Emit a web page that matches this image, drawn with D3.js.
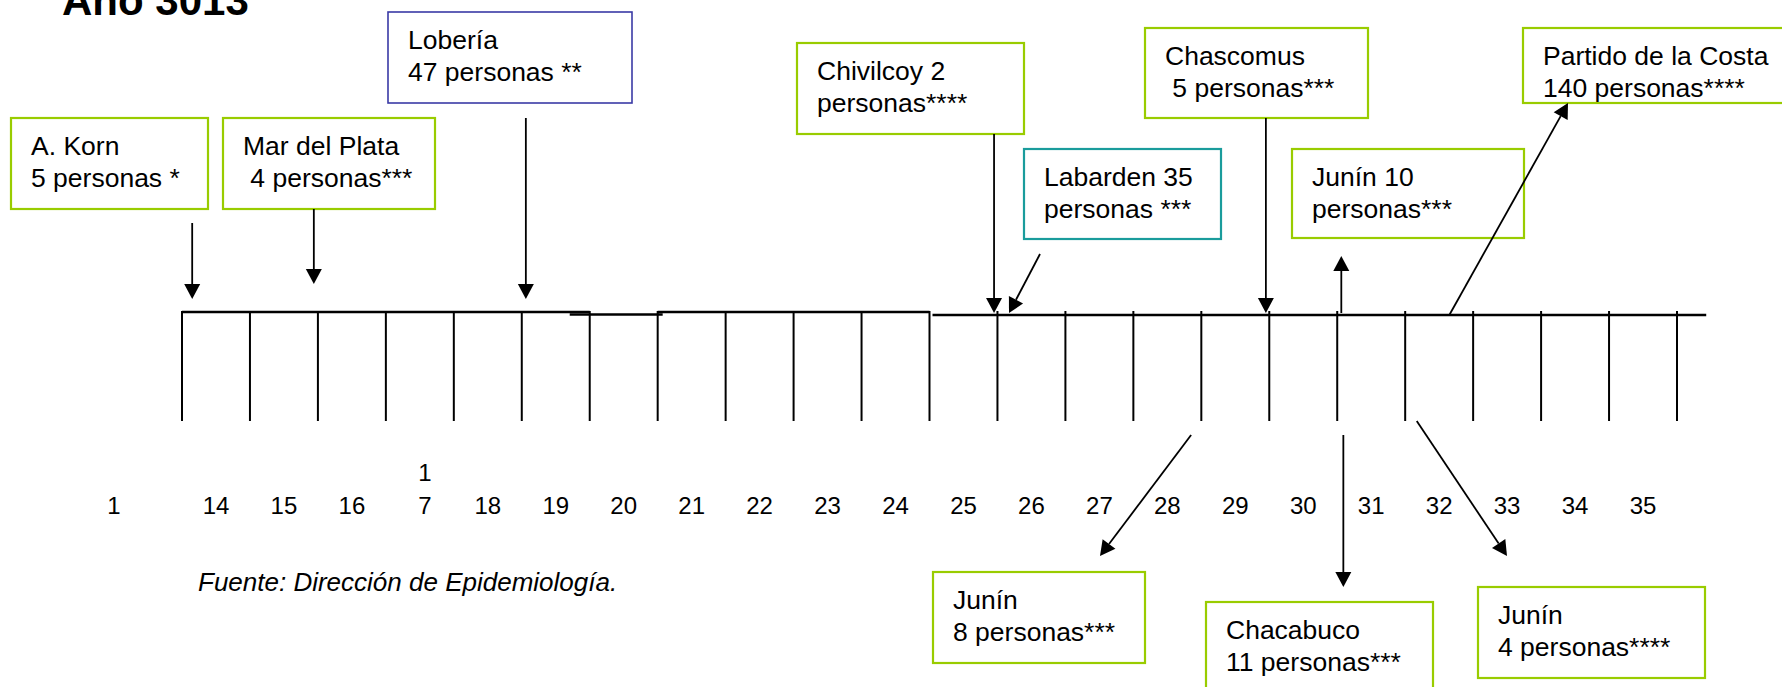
<!DOCTYPE html>
<html><head><meta charset="utf-8">
<script src="https://cdn.jsdelivr.net/npm/d3@7"></script>
<style>
body{margin:0;background:#fff}
svg{display:block}
text{font-family:"Liberation Sans",Arial,sans-serif;fill:#000}
</style>
</head><body>
<svg id="chart" width="1782" height="687"></svg>
<script>
// ---------- data ----------
const title = "Año 3013";
const source = "Fuente: Dirección de Epidemiología.";
const tickLabels = ["1","14","15","16","1\n7","18","19","20","21","22","23","24","25","26","27","28","29","30","31","32","33","34","35"];
const tickWeeks  = [12.5,14,15,16,17,18,19,20,21,22,23,24,25,26,27,28,29,30,31,32,33,34,35];
const boxedRuns = [[14,19],[21,24]];   // week runs drawn as closed boxes
const openFrom = 25;                    // open line from this week on
const lineEndWeek = 35.93;

const places  = ["A. Korn","Mar del Plata","Lobería","Chivilcoy","Labarden","Chascomus","Junín","Partido de la Costa","Junín","Chacabuco","Junín"];
const persons = [5,4,47,2,35,5,10,140,8,11,4];
const stars   = ["*","***","**","****","***","***","***","****","***","***","****"];
const atWeek  = [13.65,15.44,18.56,25.45,25.67,29.45,30.56,32.15,28.35,30.59,31.67];
// text style of each note: count on first line?, space before stars, leading space
const countFirst = [false,false,false,true,true,false,true,false,false,false,false];
const starSpace  = [true,false,true,false,true,false,false,false,false,false,false];
const leadSpace  = [false,true,false,false,false,true,false,false,false,false,false];

// ---------- layout ----------
const GREEN = "#99cc00", BLUE = "#3a3aa6", TEAL = "#1a9c9c";
const boxes = [
  [11,118,208,209,GREEN],[223,118,435,209,GREEN],[388,12,632,103,BLUE],
  [797,43,1024,134,GREEN],[1024,149,1221,239,TEAL],[1145,28,1368,118,GREEN],
  [1292,149,1524,238,GREEN],[1523,28,1800,103,GREEN],[933,572,1145,663,GREEN],
  [1206,602,1433,720,GREEN],[1478,587,1705,678,GREEN]
];
// arrows: tail and head; x null => position of the note's week on the timeline
const arrows = [
  {t:[null,223],h:[null,299]},
  {t:[null,209],h:[null,284]},
  {t:[null,118],h:[null,299]},
  {t:[null,134],h:[null,313]},
  {t:[1040,254],h:[null,313]},
  {t:[null,118],h:[null,313]},
  {t:[null,313],h:[null,256]},
  {t:[null,315],h:[1568,103]},
  {t:[null,435],h:[1100,556]},
  {t:[null,435],h:[null,587]},
  {t:[null,421],h:[1507,556]}
];

const svg = d3.select("#chart");
const x = d3.scaleLinear().domain([13.5, 35.5]).range([182, 1677]);

const yTop = 312, yLow = 315, yTickEnd = 421;

// title
svg.append("text").attr("x",62).attr("y",15)
  .style("font-weight","bold").style("font-size","42px").text(title);

// timeline
const g = svg.append("g").attr("stroke","#000").attr("fill","none");
boxedRuns.forEach(r=>{
  g.append("line").attr("x1",x(r[0]-0.5)).attr("x2",x(r[1]+0.5))
   .attr("y1",yTop).attr("y2",yTop).attr("stroke-width",2.5);
});
// step between the boxes
g.append("line").attr("x1",x(boxedRuns[0][1]+0.5)-20).attr("x2",x(boxedRuns[1][0]-0.5)+5)
  .attr("y1",yTop+2.5).attr("y2",yTop+2.5).attr("stroke-width",2.5);
g.append("line").attr("x1",x(openFrom-0.5)+3).attr("x2",x(lineEndWeek))
  .attr("y1",yLow).attr("y2",yLow).attr("stroke-width",2.5);

const edges = d3.range(tickWeeks[1], tickWeeks[tickWeeks.length-1]+2).map(w=>w-0.5);
g.selectAll("line.tick").data(edges).join("line").attr("class","tick")
  .attr("x1",d=>x(d)).attr("x2",d=>x(d)).attr("y1",yTop-1).attr("y2",yTickEnd)
  .attr("stroke-width",2);

// tick labels
const tl = svg.append("g").style("font-size","24px").attr("text-anchor","middle");
tickLabels.forEach((lab,i)=>{
  const parts = lab.split("\n");
  parts.forEach((p,j)=>{
    tl.append("text").attr("x",x(tickWeeks[i])+(parts.length>1?5:0))
      .attr("y",514-(parts.length-1-j)*33).text(p);
  });
});

// source
svg.append("text").attr("x",198).attr("y",591).style("font-style","italic")
  .style("font-size","26px").text(source);

// notes
places.forEach((p,i)=>{
  const b = boxes[i];
  svg.append("rect").attr("x",b[0]).attr("y",b[1]).attr("width",b[2]-b[0]).attr("height",b[3]-b[1])
    .attr("fill","#fff").attr("stroke",b[4]).attr("stroke-width",b[4]===BLUE?1.6:2.2);
  let l1, l2;
  const tail = "personas" + (starSpace[i]?" ":"") + stars[i];
  if(countFirst[i]){ l1 = p + " " + persons[i]; l2 = tail; }
  else { l1 = p; l2 = (leadSpace[i]?" ":"") + persons[i] + " " + tail; }
  const t = svg.append("text").attr("x",b[0]+20).style("font-size","26.5px")
    .attr("xml:space","preserve").style("white-space","pre");
  t.append("tspan").attr("x",b[0]+20).attr("y",b[1]+37).text(l1);
  t.append("tspan").attr("x",b[0]+20).attr("y",b[1]+69).text(l2);
});

// arrows
const HL = 15, HW = 8;
arrows.forEach((a,i)=>{
  const tx = a.t[0]===null ? x(atWeek[i]) : a.t[0], ty = a.t[1];
  const hx = a.h[0]===null ? x(atWeek[i]) : a.h[0], hy = a.h[1];
  const dx = hx-tx, dy = hy-ty, L = Math.hypot(dx,dy), ux = dx/L, uy = dy/L;
  const bx = hx-ux*HL, by = hy-uy*HL;
  svg.append("line").attr("x1",tx).attr("y1",ty).attr("x2",bx).attr("y2",by)
    .attr("stroke","#000").attr("stroke-width",1.8);
  svg.append("path").attr("fill","#000")
    .attr("d",`M${hx},${hy}L${bx-uy*HW},${by+ux*HW}L${bx+uy*HW},${by-ux*HW}Z`);
});
</script>
</body></html>
